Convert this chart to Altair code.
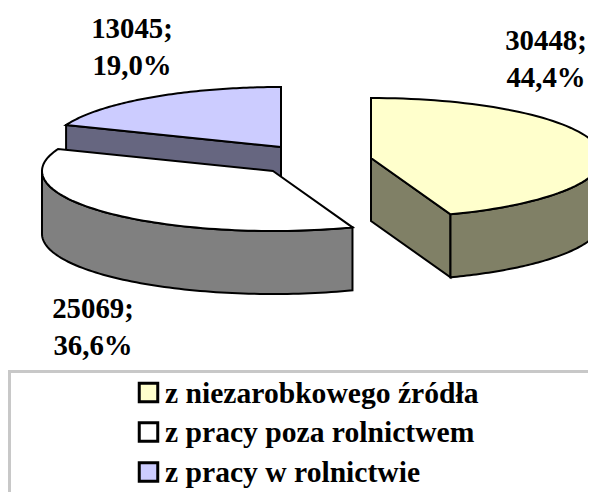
import math
import altair as alt
import pandas as pd

# --- data ---
categories = ["z niezarobkowego źródła", "z pracy poza rolnictwem", "z pracy w rolnictwie"]
values = [30448, 25069, 13045]
percents = ["44,4%", "36,6%", "19,0%"]

# --- styling / layout ---
top_colors = ["#FFFFCC", "#FFFFFF", "#CCCCFF"]
side_colors = ["#808066", "#808080", "#666680"]
centres = [(371, 158), (273, 171), (281, 147)]
label_xy = [(546, 50), (93, 318), (132, 38)]
RX, RY, DEPTH = 231, 60, 63
FONT = "Liberation Serif"
W, H = 580, 484

xs = alt.Scale(domain=[8, 8 + W], nice=False, zero=False)
ys = alt.Scale(domain=[8 + H, 8], nice=False, zero=False)
X = lambda f: alt.X(f, type="quantitative", scale=xs, axis=None)
Y = lambda f: alt.Y(f, type="quantitative", scale=ys, axis=None)


def ell(c, deg, dy=0):
    t = math.radians(deg)
    return (c[0] + RX * math.sin(t), c[1] - RY * math.cos(t) + dy)


def poly(points, fill):
    df = pd.DataFrame([{"px": p[0], "py": p[1], "i": i} for i, p in enumerate(points)])
    return alt.Chart(df).mark_line(
        interpolate="linear-closed", fill=fill, stroke="black", strokeWidth=2,
        strokeJoin="miter", clip=True,
    ).encode(x=X("px"), y=Y("py"), order=alt.Order("i:Q"))


total = sum(values)
angles, a = [], 0.0
for v in values:
    angles.append((a, a + 360.0 * v / total))
    a += 360.0 * v / total


def degs(a0, a1, n=80):
    return [a0 + (a1 - a0) * k / n for k in range(n + 1)]


layers = []
for idx in [2, 1, 0]:
    c = centres[idx]
    a0, a1 = angles[idx]
    # cut faces turned to the viewer
    cut = {2: a0, 0: a1}.get(idx)
    if cut is not None:
        e = ell(c, cut)
        layers.append(poly([c, e, (e[0], e[1] + DEPTH), (c[0], c[1] + DEPTH)], side_colors[idx]))
    # rim
    lo, hi = max(a0, 90), min(a1, 270)
    if hi > lo:
        arc = degs(lo, hi)
        pts = [ell(c, d) for d in arc] + [ell(c, d, DEPTH) for d in reversed(arc)]
        layers.append(poly(pts, side_colors[idx]))
    # top
    layers.append(poly([c] + [ell(c, d) for d in degs(a0, a1)], top_colors[idx]))

# data labels
lab_rows = []
for k in range(3):
    lab_rows.append({"px": label_xy[k][0], "py": label_xy[k][1], "t": f"{values[k]};"})
    lab_rows.append({"px": label_xy[k][0], "py": label_xy[k][1] + 37, "t": percents[k]})
labels = alt.Chart(pd.DataFrame(lab_rows)).mark_text(
    font=FONT, fontSize=28.8, fontWeight="bold", color="black", align="center", baseline="alphabetic"
).encode(x=X("px"), y=Y("py"), text="t:N")

# legend box
box_top = alt.Chart(pd.DataFrame({"a": [8], "b": [8 + W], "c": [371.5]})).mark_rule(
    color="#c8c8c8", strokeWidth=3
).encode(x=X("a"), x2="b:Q", y=Y("c"))
box_left = alt.Chart(pd.DataFrame({"a": [9.5], "b": [370], "c": [8 + H]})).mark_rule(
    color="#c8c8c8", strokeWidth=3
).encode(x=X("a"), y=Y("b"), y2="c:Q")

leg = pd.DataFrame({
    "cat": categories,
    "fill": top_colors,
    "sx": [148.5] * 3,
    "tx": [165] * 3,
    "sy": [392.5, 432, 472],
    "ty": [403, 442, 481.5],
})
swatches = alt.Chart(leg).mark_square(size=342, stroke="black", strokeWidth=3, opacity=1).encode(
    x=X("sx"), y=Y("sy"), fill=alt.Fill("fill:N", scale=None)
)
legend_text = alt.Chart(leg).mark_text(
    font=FONT, fontSize=29.6, fontWeight="bold", color="black", align="left", baseline="alphabetic"
).encode(x=X("tx"), y=Y("ty"), text="cat:N")

chart = alt.layer(*layers, labels, box_top, box_left, swatches, legend_text).properties(
    width=W, height=H, padding=0, autosize=alt.AutoSizeParams(type="none"), background="white"
).configure_view(stroke=None)

chart.save("out.html", embed_options={"renderer": "svg", "actions": False})
